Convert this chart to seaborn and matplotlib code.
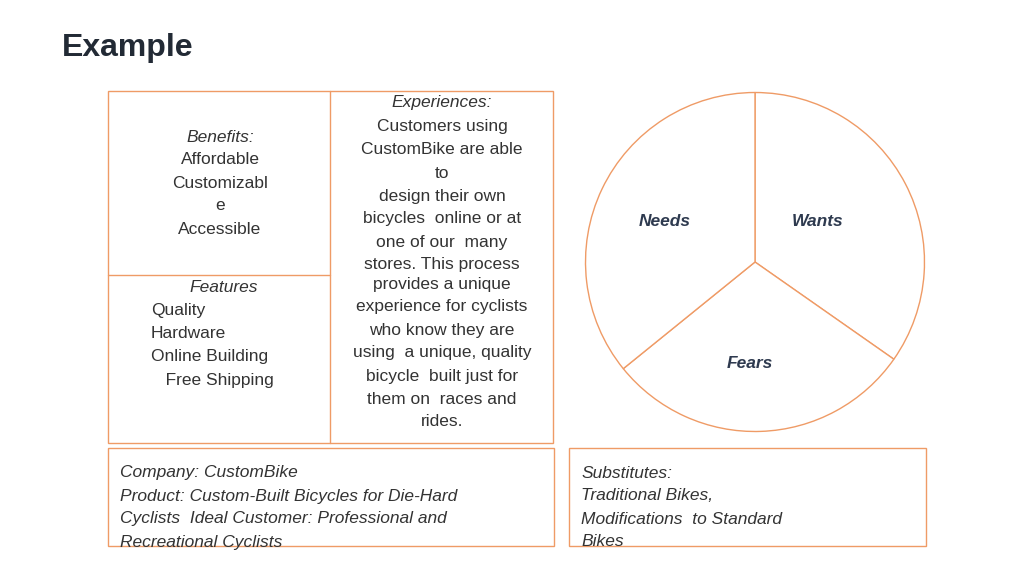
import matplotlib.pyplot as plt
import matplotlib.patches as patches
import seaborn as sns

# pie slices (degrees, clockwise from top)
slice_names = ["Wants", "Fears", "Needs"]
slice_sizes = [125, 106, 129]

benefits = ["Affordable", "Customizabl", "e", "Accessible"]
features = ["Quality", "Hardware", "Online Building", "   Free Shipping"]
experiences = ["Customers using", "CustomBike are able", "to", "design their own",
               "bicycles  online or at", "one of our  many", "stores. This process",
               "provides a unique", "experience for cyclists", "who know they are",
               "using  a unique, quality", "bicycle  built just for", "them on  races and", "rides."]
company = ["Company: CustomBike", "Product: Custom-Built Bicycles for Die-Hard",
           "Cyclists  Ideal Customer: Professional and", "Recreational Cyclists"]
substitutes = ["Substitutes:", "Traditional Bikes,", "Modifications  to Standard", "Bikes"]

sns.set_style("white")
plt.rcParams['font.family'] = ['Liberation Sans', 'DejaVu Sans']
orange = "#ef9b66"
txt = "#333333"
lab = "#2e3a4f"
fs = 12.5

fig = plt.figure(figsize=(10.24, 5.73), dpi=100)
ax = fig.add_axes([0, 0, 1, 1])
ax.set_xlim(0, 1024)
ax.set_ylim(573, 0)
ax.axis("off")

ax.text(62, 48, "Example", fontsize=23, fontweight="bold", color="#222a35", va="center")

# boxes
for x0, y0, x1, y1 in [(108, 91, 553, 443), (108, 448, 554, 546), (569, 448, 926, 546)]:
    ax.add_patch(patches.Rectangle((x0, y0), x1 - x0, y1 - y0, fill=False, ec=orange, lw=1))
ax.plot([330, 330], [91, 443], color=orange, lw=1)
ax.plot([108, 330], [275, 275], color=orange, lw=1)

ax.text(220, 137, "Benefits:", fontsize=fs, style="italic", color=txt, ha="center", va="center")
for i, s in enumerate(benefits):
    ax.text(220, 160 + i * 23, s, fontsize=fs, color=txt, ha="center", va="center")
ax.text(224, 287, "Features", fontsize=fs, style="italic", color=txt, ha="center", va="center")
for i, s in enumerate(features):
    ax.text(151, 311 + i * 23, s, fontsize=fs, color=txt, ha="left", va="center")

ax.text(442, 103, "Experiences:", fontsize=fs, style="italic", color=txt, ha="center", va="center")
for i, s in enumerate(experiences):
    y = 127 + i * 23 if i < 7 else 284 + (i - 7) * 23
    ax.text(442, y, s, fontsize=fs, color=txt, ha="center", va="center")

for i, s in enumerate(company):
    ax.text(120, 473 + i * 23, s, fontsize=fs, style="italic", color=txt, ha="left", va="center")
for i, s in enumerate(substitutes):
    ax.text(581, 473 + i * 23, s, fontsize=fs, style="italic", color=txt, ha="left", va="center")

# pie
pax = fig.add_axes([585 / 1024, (573 - 432) / 573, 340 / 1024, 340 / 573])
pax.pie(slice_sizes, startangle=90, counterclock=False, colors=["white"] * 3,
        wedgeprops=dict(ec=orange, lw=1))
pax.set_aspect("auto")
pax.set_xlim(-1.003, 1.003)
pax.set_ylim(-1.003, 1.003)
pax.patch.set_alpha(0)
for name, (x, y) in zip(slice_names, [(818, 221), (750, 364), (664, 221)]):
    pax.text((x - 755) / 170, (262 - y) / 170, name, fontsize=fs, fontweight="bold",
             style="italic", color=lab, ha="center", va="center", zorder=5)

fig.savefig("out.png", dpi=100)
